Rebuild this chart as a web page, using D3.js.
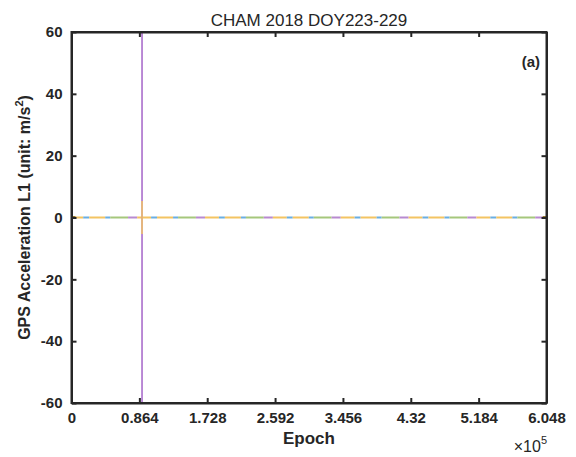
<!DOCTYPE html>
<html>
<head>
  <meta charset="utf-8">
  <title>CHAM 2018 DOY223-229</title>
  <style>
    body { margin: 0; background: #fff; }
    svg { display: block; font-family: "Liberation Sans", Arial, sans-serif; }
    .tick text { font-weight: bold; font-size: 15px; fill: #262626; }
    .axis path, .axis line { stroke: #262626; }
  </style>
</head>
<body>
  <svg id="chart" width="576" height="457"></svg>

  <script src="https://d3js.org/d3.v7.min.js"></script>
  <script>
    // x tick values (epoch, s) and y tick values (m/s^2)
    var xTicks = [0, 86400, 172800, 259200, 345600, 432000, 518400, 604800];
    var xTickLabels = ['0', '0.864', '1.728', '2.592', '3.456', '4.32', '5.184', '6.048'];
    var yTicks = [-60, -40, -20, 0, 20, 40, 60];

    // satellite arcs along the zero line: [start epoch, end epoch, colour key]
    var arcs = [
      [0, 14900, 'Y'], [14900, 22500, 'B'], [22500, 42900, 'Y'], [42900, 49300, 'B'], [49300, 72000, 'G'], [72000, 83600, 'P'],
      [83600, 101300, 'Y'], [101300, 108900, 'B'], [108900, 129300, 'Y'], [129300, 135700, 'B'], [135700, 158400, 'G'], [158400, 170000, 'P'],
      [170000, 187700, 'Y'], [187700, 195300, 'B'], [195300, 215700, 'Y'], [215700, 222100, 'B'], [222100, 244800, 'G'], [244800, 256400, 'P'],
      [256400, 274100, 'Y'], [274100, 281700, 'B'], [281700, 302100, 'Y'], [302100, 308500, 'B'], [308500, 331200, 'G'], [331200, 342800, 'P'],
      [342800, 360500, 'Y'], [360500, 368100, 'B'], [368100, 388500, 'Y'], [388500, 394900, 'B'], [394900, 417600, 'G'], [417600, 429200, 'P'],
      [429200, 446900, 'Y'], [446900, 454500, 'B'], [454500, 474900, 'Y'], [474900, 481300, 'B'], [481300, 504000, 'G'], [504000, 515600, 'P'],
      [515600, 533300, 'Y'], [533300, 540900, 'B'], [540900, 561300, 'Y'], [561300, 567700, 'B'], [567700, 590400, 'G'], [590400, 602000, 'P'],
      [602000, 604800, 'Y']
    ];
    var arcValue = 0;

    // short dark markers at both ends of the record
    var endMarks = [[0, 5000], [600000, 604800]];

    // outlier spikes: [epoch, min, max, colour key]
    var spikes = [
      [89800, -70, 70, 'S'],
      [89800, -5.3, 5.3, 'Y']
    ];

    var colours = {
      Y: '#f3c462',
      B: '#6aaee2',
      G: '#a5c77c',
      P: '#b88ad0',
      S: '#a464c8',
      M: '#9a7a2c'
    };

    var svg = d3.select('#chart');
    var margin = { left: 71.5, right: 29.5, top: 32, bottom: 54 };
    var width = 576 - margin.left - margin.right;
    var height = 457 - margin.top - margin.bottom;

    var x = d3.scaleLinear().domain([0, 604800]).range([0, width]);
    var y = d3.scaleLinear().domain([-60, 60]).range([height, 0]);

    var g = svg.append('g').attr('transform', 'translate(' + margin.left + ',' + margin.top + ')');

    g.append('clipPath').attr('id', 'clip')
      .append('rect').attr('width', width).attr('height', height);

    var plot = g.append('g').attr('clip-path', 'url(#clip)');

    plot.selectAll('line.arc')
      .data(arcs)
      .enter().append('line')
      .attr('class', 'arc')
      .attr('x1', function(d) { return x(d[0]); })
      .attr('x2', function(d) { return x(d[1]); })
      .attr('y1', y(arcValue))
      .attr('y2', y(arcValue))
      .attr('stroke', function(d) { return colours[d[2]]; })
      .attr('stroke-width', 2);

    plot.selectAll('line.spike')
      .data(spikes)
      .enter().append('line')
      .attr('class', 'spike')
      .attr('x1', function(d) { return x(d[0]); })
      .attr('x2', function(d) { return x(d[0]); })
      .attr('y1', function(d) { return y(d[1]); })
      .attr('y2', function(d) { return y(d[2]); })
      .attr('stroke', function(d) { return colours[d[3]]; })
      .attr('stroke-width', 1.5);

    plot.selectAll('line.mark')
      .data(endMarks)
      .enter().append('line')
      .attr('class', 'mark')
      .attr('x1', function(d) { return x(d[0]); })
      .attr('x2', function(d) { return x(d[1]); })
      .attr('y1', y(arcValue))
      .attr('y2', y(arcValue))
      .attr('stroke', colours.M)
      .attr('stroke-width', 3);

    // axes, MATLAB style: ticks inward on all four sides
    var tickLen = 5;
    var xFmt = function(d, i) { return xTickLabels[i]; };
    var yFmt = function(d) { return String(d); }; // plain hyphen, as in MATLAB

    g.append('g').attr('class', 'axis')
      .attr('transform', 'translate(0,' + height + ')')
      .call(d3.axisBottom(x).tickValues(xTicks).tickFormat(xFmt).tickSizeInner(-tickLen).tickSizeOuter(0).tickPadding(9));
    g.append('g').attr('class', 'axis')
      .call(d3.axisTop(x).tickValues(xTicks).tickFormat('').tickSizeInner(-tickLen).tickSizeOuter(0));
    g.append('g').attr('class', 'axis')
      .call(d3.axisLeft(y).tickValues(yTicks).tickFormat(yFmt).tickSizeInner(-tickLen).tickSizeOuter(0).tickPadding(9));
    g.append('g').attr('class', 'axis')
      .attr('transform', 'translate(' + width + ',0)')
      .call(d3.axisRight(y).tickValues(yTicks).tickFormat('').tickSizeInner(-tickLen).tickSizeOuter(0));

    g.selectAll('.axis path').attr('stroke-width', 2);
    g.selectAll('.axis line').attr('stroke-width', 2);

    // box
    g.append('rect')
      .attr('width', width).attr('height', height)
      .attr('fill', 'none').attr('stroke', '#262626').attr('stroke-width', 2);

    // title
    svg.append('text')
      .attr('x', margin.left + width / 2).attr('y', 26)
      .attr('text-anchor', 'middle')
      .style('font-size', '17px').style('fill', '#262626')
      .text('CHAM 2018 DOY223-229');

    // x label
    svg.append('text')
      .attr('x', margin.left + width / 2).attr('y', 444)
      .attr('text-anchor', 'middle')
      .style('font-size', '17px').style('font-weight', 'bold').style('fill', '#262626')
      .text('Epoch');

    // x exponent
    var expo = svg.append('text')
      .attr('x', 547).attr('y', 452)
      .attr('text-anchor', 'end')
      .style('font-size', '16px').style('fill', '#262626');
    expo.append('tspan').text('\u00d710');
    expo.append('tspan').attr('dy', -8).style('font-size', '11px').text('5');

    // y label
    var yl = svg.append('text')
      .attr('transform', 'translate(30,' + (margin.top + height / 2) + ') rotate(-90)')
      .attr('text-anchor', 'middle')
      .style('font-size', '16px').style('font-weight', 'bold').style('fill', '#262626');
    yl.append('tspan').text('GPS Acceleration L1 (unit: m/s');
    yl.append('tspan').attr('dy', -7).style('font-size', '11px').text('2');
    yl.append('tspan').attr('dy', 7).text(')');

    // panel tag
    svg.append('text')
      .attr('x', 540).attr('y', 67)
      .attr('text-anchor', 'end')
      .style('font-size', '15px').style('font-weight', 'bold').style('fill', '#262626')
      .text('(a)');
  </script>
</body>
</html>
